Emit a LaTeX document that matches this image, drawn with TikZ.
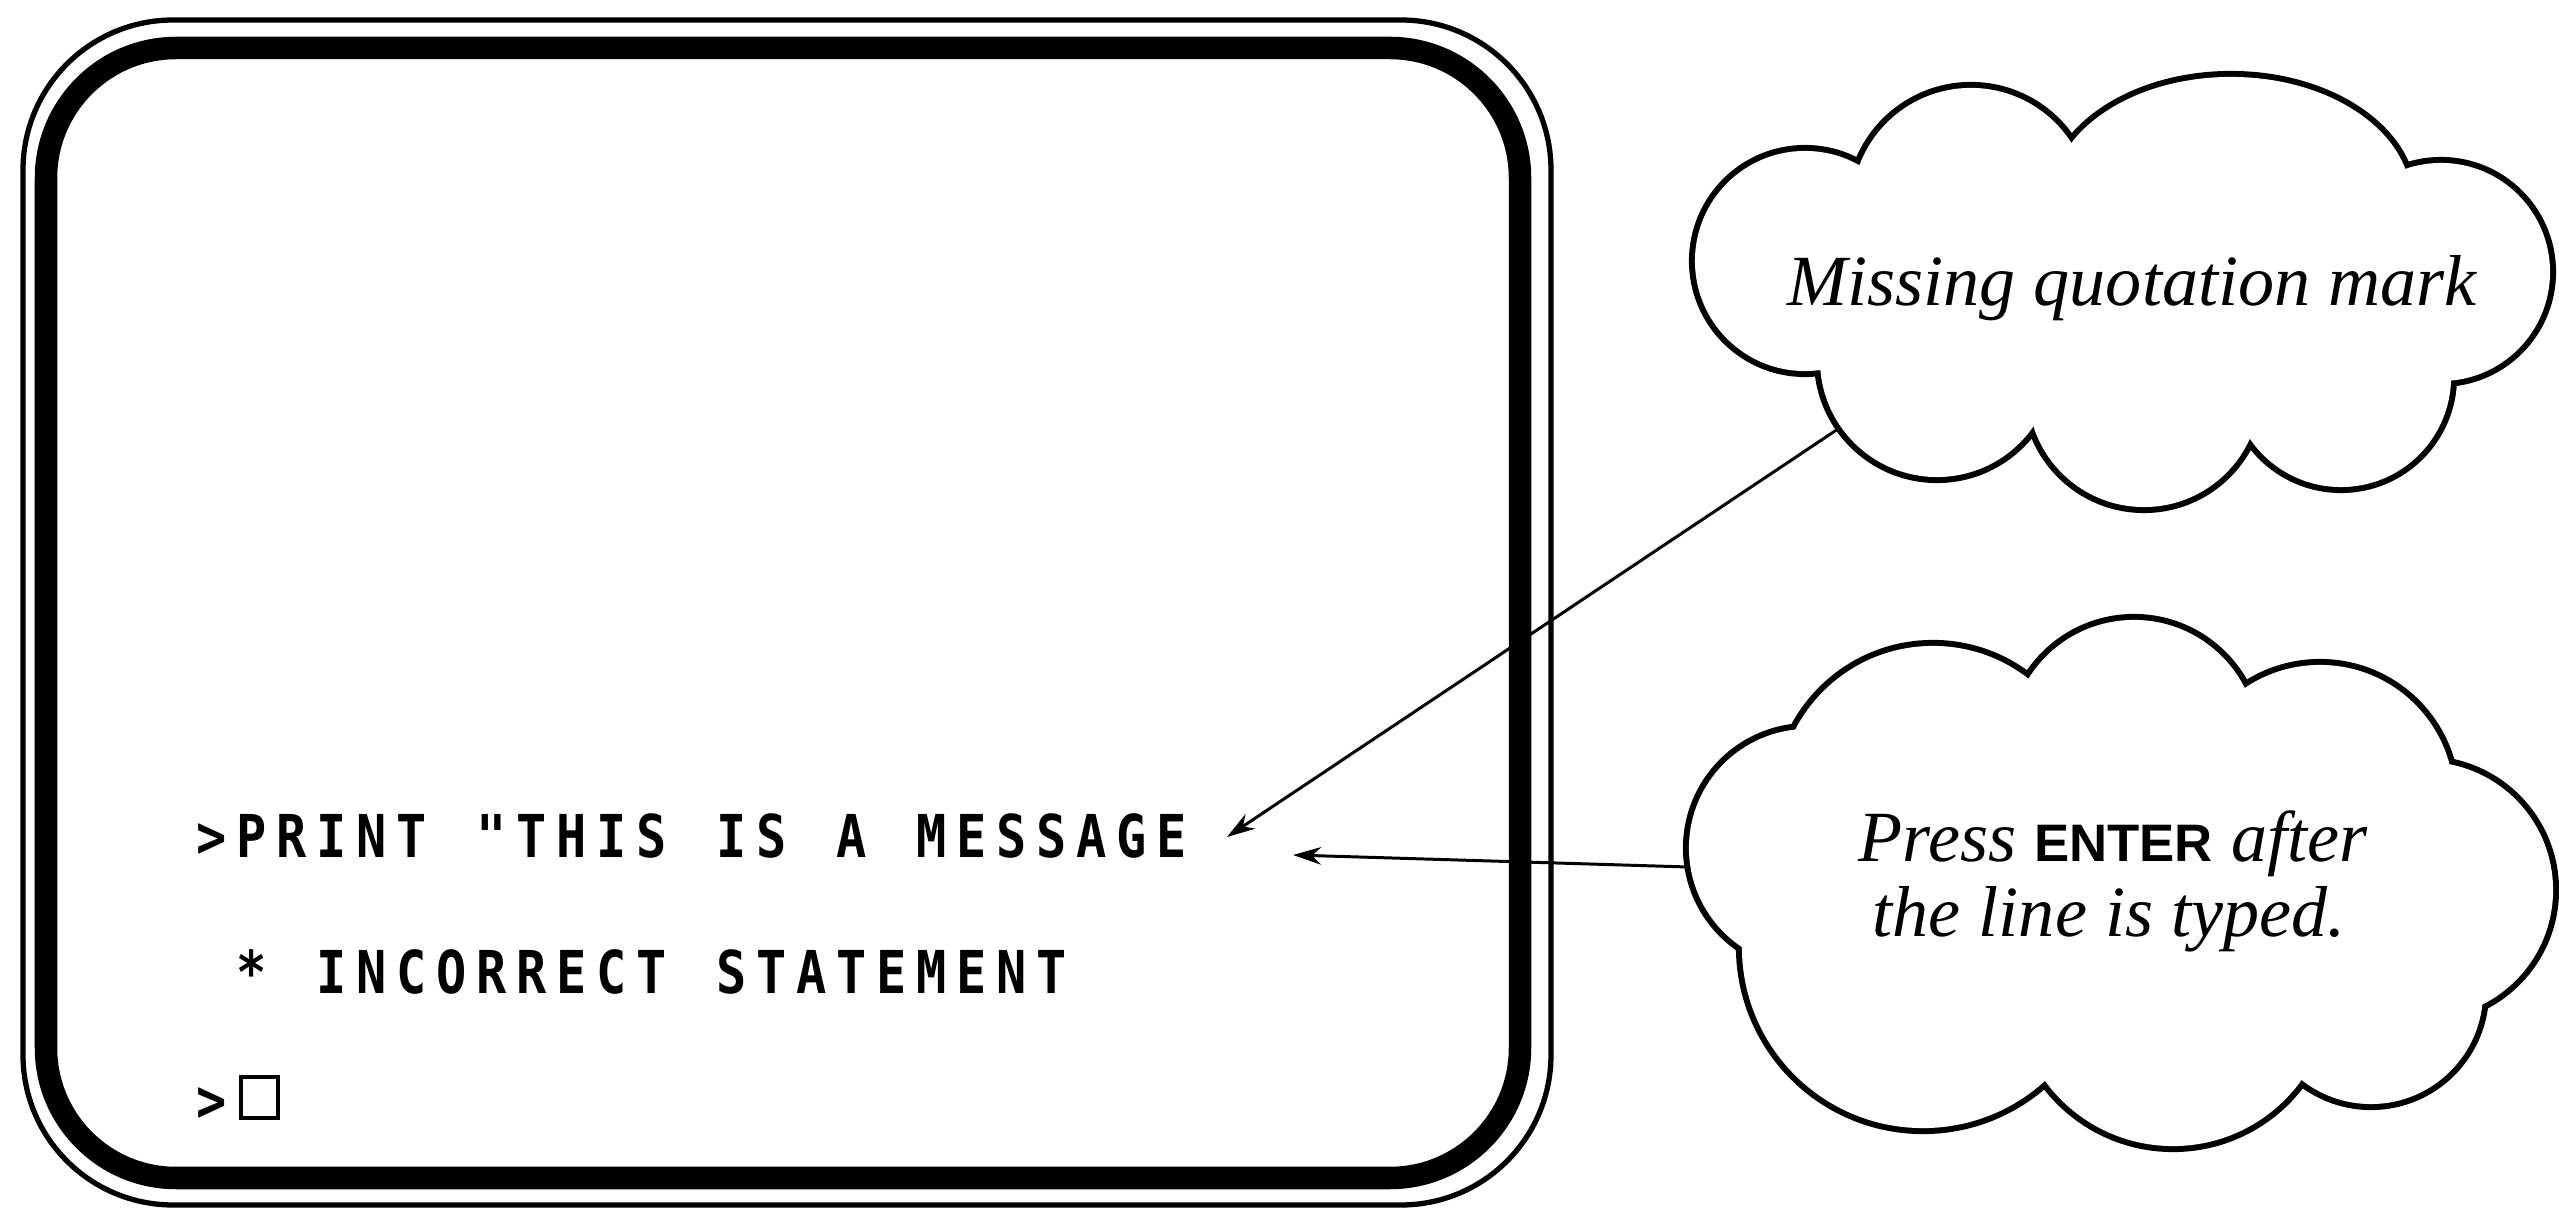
\documentclass[tikz,border=0pt]{standalone}
\usepackage{fontspec}
\usepackage{graphicx}
\setmainfont{Liberation Serif}
\newfontfamily\scrfont{DejaVu Sans Mono}[FakeStretch=0.85, LetterSpace=16.5]
\newfontfamily\keyfont{Liberation Sans}
\usetikzlibrary{arrows.meta}

% character cell font of the screen: fixed pitch of 11.38pt
\newcommand{\crtfont}{\scrfont\bfseries\fontsize{16.8}{18}\selectfont}
\newcommand{\crtline}[1]{{\spaceskip=14.16pt\relax #1}}

% Cloud outlines are built as a union of lobes: a black pass grown by
% half the stroke, then a white pass shrunk by half the stroke.
\newcommand{\uppercloud}[1]{%
  \fill (1805,261) circle[radius=1.13cm+#1];
  \fill (1971,207) circle[radius=1.22cm+#1];
  \fill (2231,200) ellipse[x radius=1.83cm+#1, y radius=1.26cm+#1];
  \fill (2441,272) circle[radius=1.12cm+#1];
  \fill (2341,377) circle[radius=1.13cm+#1];
  \fill (2144,391) circle[radius=1.19cm+#1];
  \fill (1937,360) circle[radius=1.20cm+#1];
}
\newcommand{\lowercloud}[1]{%
  \fill (1933,801) circle[radius=1.58cm+#1];
  \fill (2134,744) circle[radius=1.27cm+#1];
  \fill (2320,799) circle[radius=1.37cm+#1];
  \fill (2425,890) circle[radius=1.31cm+#1];
  \fill (2371,992) circle[radius=1.15cm+#1];
  \fill (2173,988) circle[radius=1.61cm+#1];
  \fill (1923,947) circle[radius=1.84cm+#1];
  \fill (1808,848) circle[radius=1.22cm+#1];
}

\begin{document}
\begin{tikzpicture}[x=0.01cm, y=-0.01cm,
  screentext/.style={anchor=base west, inner sep=0pt, font=\crtfont},
  note/.style={anchor=base, inner sep=0pt,
    font=\itshape\fontsize{20.5}{24}\selectfont},
  pointer/.style={line width=0.85pt, -{Stealth[length=8pt, width=5pt]}},
  bezel/.style={line width=1.5pt, rounded corners=1.5cm},
  glass/.style={line width=6.4pt, rounded corners=1.3cm},
]
\useasboundingbox (0,0) rectangle (2559,1213);
\fill[white] (0,0) rectangle (2559,1213);

% screen frame
\draw[bezel] (23,20) rectangle (1551,1205);
\draw[glass] (46,48) rectangle (1520,1178);

% clouds
\begin{scope}[fill=black]
  \uppercloud{0.03cm}
  \lowercloud{0.03cm}
\end{scope}
\begin{scope}[fill=white]
  \uppercloud{(-0.03cm)}
  \lowercloud{(-0.03cm)}
  \fill (1805,261) -- (1971,207) -- (2231,200) -- (2441,272) -- (2341,377)
        -- (2144,391) -- (1937,360) -- cycle;
  \fill (1808,848) -- (1933,801) -- (2134,744) -- (2320,799) -- (2425,890)
        -- (2371,992) -- (2173,988) -- (1923,947) -- cycle;
\end{scope}

% screen contents
\node[screentext] (line1) at (196,858) {\crtline{>PRINT "THIS IS A MESSAGE}};
\node[screentext] (line2) at (236,994) {\crtline{* INCORRECT STATEMENT}};
\node[screentext] (prompt) at (196,1122) {>};
\node[draw, line width=1.2pt, inner sep=0pt, minimum width=0.37cm,
      minimum height=0.41cm, anchor=south west] (cursor) at (239,1120) {};

% notes
\node[note] (missing) at (2132,306) {Missing quotation mark};
\node[note] (press) at (2113,862) {Press {\upshape\keyfont\bfseries\fontsize{15}{16}\selectfont ENTER} after};
\node[note] (typed) at (2109,937) {the line is typed.};

% pointers
\coordinate (upperfoot) at (1838,429);
\coordinate (quotegap) at (1227,837);
\coordinate (lowerfoot) at (1688,867);
\coordinate (lineend) at (1293,855);
\draw[pointer] (upperfoot) -- (quotegap);
\draw[pointer] (lowerfoot) -- (lineend);
\end{tikzpicture}
\end{document}
